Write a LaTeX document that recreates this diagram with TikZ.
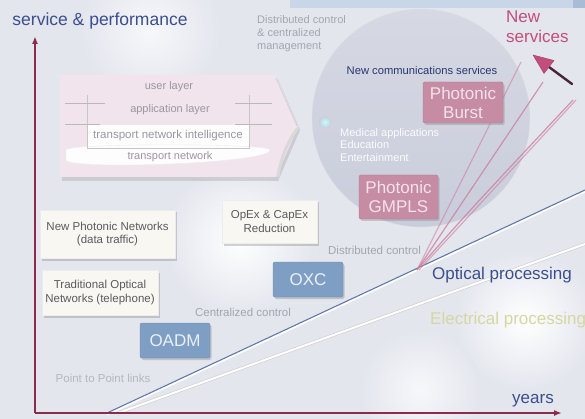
\documentclass[tikz,border=0pt]{standalone}
\usepackage{fontspec}
\setmainfont{Liberation Sans}
\usetikzlibrary{arrows.meta,shadows}
\definecolor{bgc}{HTML}{E4E6EE}
\definecolor{strip}{HTML}{C9D6E8}
\definecolor{stripd}{HTML}{A8BCD6}
\definecolor{axisc}{HTML}{8C2C4C}
\definecolor{navy}{HTML}{3A4F8C}
\definecolor{lblgrey}{HTML}{A4A6B0}
\definecolor{layergrey}{HTML}{9A96A0}
\definecolor{pinkfill}{HTML}{C68CA4}
\definecolor{pinkedge}{HTML}{B07890}
\definecolor{pinktext}{HTML}{F6E2EA}
\definecolor{bluefill}{HTML}{7F9EC4}
\definecolor{blueedge}{HTML}{6E8CB2}
\definecolor{bluetext}{HTML}{EAF0F8}
\definecolor{whitefill}{HTML}{F8F7F2}
\definecolor{boxtext}{HTML}{5A5A60}
\definecolor{circfill}{HTML}{C9CDDB}
\definecolor{circtop}{HTML}{D6D9E3}
\definecolor{newserv}{HTML}{C24F7A}
\definecolor{nsdark}{HTML}{4A2438}
\definecolor{fanc}{HTML}{CC7FA0}
\definecolor{optline}{HTML}{6478A8}
\definecolor{elecc}{HTML}{D6D6A2}
\definecolor{layerpink}{HTML}{F2E4EC}
\definecolor{commnavy}{HTML}{283670}
\tikzset{
  lbl/.style={text=lblgrey, font=\fontsize{11.5}{13}\selectfont, inner sep=0pt},
  layerlbl/.style={text=layergrey, font=\fontsize{11}{13}\selectfont, inner sep=0pt},
  bigtxt/.style={font=\fontsize{17}{19}\selectfont, inner sep=0pt},
  whitebox/.style={fill=whitefill, draw=white!85!gray, align=center, text=boxtext,
    font=\fontsize{11.5}{13.5}\selectfont, inner sep=0pt,
    drop shadow={shadow xshift=1.5pt, shadow yshift=-2.5pt, fill=gray, opacity=0.35}},
  pinkbox/.style={fill=pinkfill, draw=pinkedge, text=pinktext, align=center,
    font=\fontsize{17}{19}\selectfont, inner sep=0pt, rounded corners=1.5pt,
    drop shadow={shadow xshift=1.5pt, shadow yshift=-2pt, fill=gray, opacity=0.35}},
  bluebox/.style={fill=bluefill, draw=blueedge, text=bluetext, align=center,
    font=\fontsize{17}{19}\selectfont, inner sep=0pt, rounded corners=2pt,
    drop shadow={shadow xshift=1.5pt, shadow yshift=-2pt, fill=gray, opacity=0.35}},
  axisline/.style={draw=axisc, line width=1.6pt, -{Latex[length=8pt,width=6pt]}},
  fanline/.style={draw=fanc, line width=1.2pt, opacity=0.8},
}
\begin{document}
\begin{tikzpicture}[x=1pt,y=-1pt]
\useasboundingbox (0,0) rectangle (585,419);
% background
\fill[bgc] (0,0) rectangle (585,419);
\shade[inner color=white, outer color=bgc] (240,240) circle (75);
\shade[inner color=white, outer color=bgc] (525,320) circle (70);
\shade[inner color=white!70!bgc, outer color=bgc] (420,390) circle (60);
\shade[inner color=white!70!bgc, outer color=bgc] (150,30) circle (70);
\fill[strip] (290,0) rectangle (573,8);
\fill[stripd] (573,0) rectangle (585,8);

% big circle
\shade[top color=circtop, bottom color=circfill, draw=white!75!gray] (421,118) circle (109);
\shade[inner color=cyan!25!white, outer color=circfill] (325,122) circle (6);

% layered box with arrow shape
\fill[gray, opacity=0.25] (62,79) -- (278,79) -- (300,130) -- (278,181) -- (62,181) -- cycle;
\fill[layerpink] (60,75) -- (276,75) -- (298,127) -- (276,177) -- (60,177) -- cycle;
\draw[white!65!gray, line width=0.8pt] (276,78) -- (297,126);
\draw[white!70!gray, line width=3pt] (298,128) .. controls (288,140) and (280,160) .. (278,177);
\fill[white!96!layerpink] (87,125) rectangle (249,148);
\draw[white!85!gray, fill=white!94!layerpink] (66,150) .. controls (66,143) and (270,143) .. (270,150)
  .. controls (270,164) and (66,170) .. (66,160) -- cycle;
\draw[white!55!gray, line width=0.7pt] (87,95) -- (87,148) -- (249,148) -- (249,95);
\draw[white!45!gray, line width=0.7pt] (65,103) -- (105,103) (235,103) -- (272,103);
\draw[white!45!gray, line width=0.7pt] (65,124) -- (100,124) (235,124) -- (272,124);
\node[layerlbl] (ul) at (169,87) {user layer};
\node[layerlbl] (al) at (170,110) {application layer};
\node[layerlbl, font=\fontsize{11.5}{13}\selectfont] (tni) at (168,136) {transport network intelligence};
\node[layerlbl] (tn) at (170,157) {transport network};

% lines
\coordinate (op1) at (107,413);
\coordinate (op2) at (585,190);
\coordinate (el1) at (118,413);
\coordinate (el2) at (585,244);
\draw[white!65!gray, line width=3.4pt] (el1) -- (el2);
\draw[white!96!bgc, line width=2pt] (el1) -- (el2);
\draw[white, line width=2.2pt] ([yshift=-1.5pt]op1) -- ([yshift=-1.5pt]op2);
\draw[optline, line width=1.1pt] (op1) -- (op2);

% fan lines
\coordinate (cv) at (417,270);
\coordinate (f1) at (521,62);
\coordinate (f2) at (543,82);
\coordinate (f3) at (573,100);
\draw[fanline, opacity=0.55] (cv) -- (f1);
\draw[fanline] (cv) -- (f2);
\draw[fanline] (cv) .. controls (470,210) .. (f3);
\draw[fanline, opacity=0.6] ([xshift=2pt]cv) -- ([xshift=3pt]f3);

% axes
\coordinate (o) at (35,413);
\coordinate (ytop) at (35,36);
\coordinate (xend) at (562,413);
\draw[axisline] (o) -- (ytop);
\draw[axisline] (o) -- (xend);

% text labels
\node[bigtxt, text=navy, font=\fontsize{17.5}{19}\selectfont] (sp) at (100,21) {service \& performance};
\node[bigtxt, text=navy] (yrs) at (533,401) {years};
\node[lbl, anchor=north west, align=left, font=\fontsize{11}{13}\selectfont] (dcm) at (257,15) {Distributed control\\\& centralized\\management};
\node[bigtxt, text=newserv, anchor=north west, align=left, font=\fontsize{17}{20}\selectfont] (ns) at (506,11) {New\\services};
\node[text=commnavy, font=\fontsize{11.2}{13}\selectfont, inner sep=0pt] (ncs) at (422,70) {New communications services};
\node[text=white!95!circfill, anchor=north west, align=left, font=\fontsize{11}{12.5}\selectfont, inner sep=0pt] (med) at (340,128) {Medical applications\\Education\\Entertainment};
\node[pinkbox, minimum width=80pt, minimum height=41pt] (pb) at (463,102.5) {Photonic\\Burst};
\node[pinkbox, minimum width=79pt, minimum height=44pt] (pg) at (398.5,197) {Photonic\\GMPLS};
\node[whitebox, minimum width=95pt, minimum height=43pt] (opex) at (269.5,221.5) {OpEx \& CapEx\\Reduction};
\node[whitebox, minimum width=135pt, minimum height=48pt] (npn) at (107.5,234) {New Photonic Networks\\(data traffic)};
\node[whitebox, minimum width=116pt, minimum height=45pt] (ton) at (100,292.5) {Traditional Optical\\Networks (telephone)};
\node[bluebox, minimum width=70pt, minimum height=35pt] (oxc) at (308,279.5) {OXC};
\node[bluebox, minimum width=70pt, minimum height=35pt] (oadm) at (175,340.5) {OADM};
\node[lbl] (dc) at (374.5,250) {Distributed control};
\node[lbl] (cc) at (243,312) {Centralized control};
\node[lbl, text=white!20!lblgrey] (ptp) at (103,378) {Point to Point links};
\node[bigtxt, text=navy] (opt) at (502,275) {Optical processing};
\node[bigtxt, text=elecc, anchor=west] (elec) at (430,320) {Electrical processing};

% new services arrow
\coordinate (nstail) at (572,84);
\coordinate (nsbase) at (549,67);
\coordinate (nstip) at (533,55);
\coordinate (nsc1) at (554,60.5);
\coordinate (nsc2) at (544,73.5);
\draw[nsdark, line width=2.4pt, line cap=round] (nstail) -- (nsbase);
\fill[newserv, draw=newserv!80!black, line width=0.4pt, line join=round] (nstip) -- (nsc1) -- (nsc2) -- cycle;
\end{tikzpicture}
\end{document}
